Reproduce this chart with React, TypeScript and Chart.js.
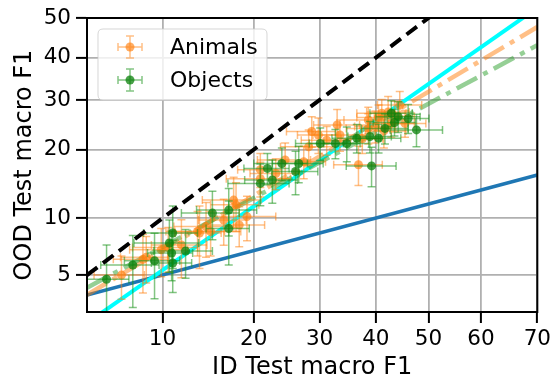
import React, { useEffect, useRef } from "react";
import { Chart, registerables } from "chart.js";

Chart.register(...registerables);

// ---------- data (percent values) ----------
const X_TICKS = [10, 20, 30, 40, 50, 60, 70];
const Y_TICKS = [5, 10, 20, 30, 40, 50];
const X_RANGE = [5, 70];
const Y_RANGE = [3, 50];

const ANIMALS_X = [6.96, 8.45, 8.7, 9.9, 10.5, 11.7, 13.3, 13.5, 14.2, 14.7, 16.2, 17.4, 17.7, 18.1, 19.1, 20.9, 20.9, 23.1, 24.5, 27.4, 28.2, 28.7, 29.8, 31.2, 33.0, 33.5, 36.8, 37.5, 38.6, 38.6, 39.9, 40.5, 41.1, 42.3, 42.9, 43.5, 44.5, 45.5, 41.5];
const ANIMALS_Y = [5.0, 6.13, 6.3, 6.9, 7.1, 7.33, 8.6, 8.45, 9.1, 8.6, 9.8, 12.2, 11.6, 9.27, 10.2, 15.2, 16.6, 16.0, 18.2, 17.9, 20.5, 23.4, 22.7, 21.7, 24.7, 22.7, 17.4, 22.0, 24.0, 25.7, 24.4, 26.2, 27.1, 27.4, 25.0, 26.5, 28.9, 25.0, 23.5];
const ANIMALS_XERR = [1.6, 2.0, 1.8, 2.4, 2.8, 2.6, 3.0, 2.4, 3.2, 3.6, 2.8, 3.6, 3.0, 3.4, 4.0, 4.4, 3.0, 3.6, 4.0, 3.6, 4.4, 4.0, 3.4, 4.2, 4.0, 4.6, 4.4, 3.8, 4.0, 4.4, 3.8, 4.0, 4.6, 4.0, 4.4, 3.8, 4.2, 4.0, 4.2];
const ANIMALS_YERR = [1.4, 2.2, 1.8, 2.0, 1.9, 2.5, 2.2, 3.0, 2.8, 2.2, 2.5, 3.2, 3.0, 2.1, 2.5, 2.6, 2.7, 2.4, 3.0, 2.7, 3.2, 3.0, 3.4, 2.7, 3.2, 3.0, 3.2, 2.7, 3.0, 2.7, 3.2, 2.7, 3.0, 3.4, 2.7, 3.2, 3.0, 2.7, 3.2];

const OBJECTS_X = [6.05, 7.72, 9.35, 10.9, 10.8, 10.9, 10.6, 12.1, 14.9, 16.8, 16.8, 20.9, 21.9, 22.6, 24.0, 26.1, 26.6, 30.1, 32.7, 34.7, 36.5, 39.2, 38.9, 40.5, 41.7, 42.9, 44.2, 46.1, 47.7, 43.5];
const OBJECTS_Y = [4.73, 5.7, 6.02, 8.45, 6.64, 5.85, 7.5, 6.8, 10.6, 10.96, 8.9, 14.5, 16.8, 15.0, 17.6, 16.3, 17.6, 21.1, 21.1, 21.1, 22.1, 17.2, 22.4, 22.1, 24.0, 27.1, 26.4, 26.0, 23.7, 25.2];
const OBJECTS_XERR = [1.4, 2.0, 2.2, 2.4, 2.0, 1.8, 2.8, 2.8, 3.2, 3.6, 2.6, 4.2, 3.2, 3.8, 4.0, 3.6, 4.0, 4.0, 4.4, 4.0, 4.4, 4.6, 4.0, 4.2, 4.4, 4.0, 4.2, 4.0, 5.0, 4.0];
const OBJECTS_YERR = [2.6, 2.5, 2.4, 3.0, 2.0, 1.9, 2.3, 2.0, 2.8, 2.8, 3.2, 3.0, 2.5, 3.2, 2.7, 3.4, 3.0, 3.0, 2.7, 3.2, 2.7, 3.2, 3.0, 2.7, 3.0, 2.7, 3.2, 3.0, 3.2, 2.7];

// reference / fit lines (end points, percent)
const DIAG_X = [5, 70];
const DIAG_Y = [5, 70];
const BLUE_X = [5, 70];
const BLUE_Y = [3.82, 15.76];
const CYAN_X = [5, 70];
const CYAN_Y = [2.55, 52.6];
const ANIMALS_FIT_X = [5, 70];
const ANIMALS_FIT_Y = [3.83, 47.7];
const OBJECTS_FIT_X = [5, 70];
const OBJECTS_FIT_Y = [4.22, 43.1];

// ---------- probit transform ----------
function probit(p: number): number {
  const a = [-3.969683028665376e1, 2.209460984245205e2, -2.759285104469687e2, 1.38357751867269e2, -3.066479806614716e1, 2.506628277459239];
  const b = [-5.447609879822406e1, 1.615858368580409e2, -1.556989798598866e2, 6.680131188771972e1, -1.328068155288572e1];
  const c = [-7.784894002430293e-3, -3.223964580411365e-1, -2.400758277161838, -2.549732539343734, 4.374664141464968, 2.938163982698783];
  const d = [7.784695709041462e-3, 3.224671290700398e-1, 2.445134137142996, 3.754408661907416];
  const pl = 0.02425;
  const ph = 1 - pl;
  let q: number, r: number;
  if (p < pl) {
    q = Math.sqrt(-2 * Math.log(p));
    return (((((c[0] * q + c[1]) * q + c[2]) * q + c[3]) * q + c[4]) * q + c[5]) / ((((d[0] * q + d[1]) * q + d[2]) * q + d[3]) * q + 1);
  }
  if (p <= ph) {
    q = p - 0.5;
    r = q * q;
    return ((((((a[0] * r + a[1]) * r + a[2]) * r + a[3]) * r + a[4]) * r + a[5]) * q) / (((((b[0] * r + b[1]) * r + b[2]) * r + b[3]) * r + b[4]) * r + 1);
  }
  q = Math.sqrt(-2 * Math.log(1 - p));
  return -(((((c[0] * q + c[1]) * q + c[2]) * q + c[3]) * q + c[4]) * q + c[5]) / ((((d[0] * q + d[1]) * q + d[2]) * q + d[3]) * q + 1);
}
const T = (v: number) => probit(v / 100);

const FONT = "'DejaVu Sans', 'Liberation Sans', sans-serif";
const ORANGE_PT = "rgba(255,127,14,0.65)";
const ORANGE_BAR = "rgba(255,127,14,0.5)";
const GREEN_PT = "rgba(10,128,10,0.75)";
const GREEN_BAR = "rgba(30,150,30,0.55)";

const pts = (xs: number[], ys: number[]) => xs.map((x, i) => ({ x: T(x), y: T(ys[i]) }));

const errorBarPlugin = {
  id: "errorBars",
  beforeDatasetDraw(chart: any, args: any) {
    const ds = chart.data.datasets[args.index];
    if (!ds.errSrc) return;
    const { xs, ys, xe, ye, color } = ds.errSrc;
    const sx = chart.scales.x;
    const sy = chart.scales.y;
    const ctx = chart.ctx;
    const area = chart.chartArea;
    ctx.save();
    ctx.beginPath();
    ctx.rect(area.left, area.top, area.right - area.left, area.bottom - area.top);
    ctx.clip();
    ctx.strokeStyle = color;
    ctx.lineWidth = 1.5;
    const cap = 4;
    xs.forEach((x: number, i: number) => {
      const y = ys[i];
      const px = sx.getPixelForValue(T(x));
      const py = sy.getPixelForValue(T(y));
      const x0 = sx.getPixelForValue(T(x - xe[i]));
      const x1 = sx.getPixelForValue(T(x + xe[i]));
      const y0 = sy.getPixelForValue(T(y - ye[i]));
      const y1 = sy.getPixelForValue(T(y + ye[i]));
      ctx.beginPath();
      ctx.moveTo(x0, py);
      ctx.lineTo(x1, py);
      ctx.stroke();
      ctx.beginPath();
      ctx.moveTo(px, y0);
      ctx.lineTo(px, y1);
      ctx.stroke();
      ctx.beginPath();
      ctx.moveTo(x0, py - cap);
      ctx.lineTo(x0, py + cap);
      ctx.moveTo(x1, py - cap);
      ctx.lineTo(x1, py + cap);
      ctx.moveTo(px - cap, y0);
      ctx.lineTo(px + cap, y0);
      ctx.moveTo(px - cap, y1);
      ctx.lineTo(px + cap, y1);
      ctx.stroke();
    });
    ctx.restore();
  },
};

const framePlugin = {
  id: "frame",
  afterDatasetsDraw(chart: any) {
    const { ctx, chartArea: a } = chart;
    ctx.save();
    ctx.strokeStyle = "#000";
    ctx.lineWidth = 2;
    ctx.strokeRect(a.left, a.top, a.right - a.left, a.bottom - a.top);
    ctx.restore();
  },
};

const LEGEND_ITEMS = [
  { label: "Animals", pt: ORANGE_PT, bar: ORANGE_BAR },
  { label: "Objects", pt: GREEN_PT, bar: GREEN_BAR },
];

const legendPlugin = {
  id: "customLegend",
  afterDraw(chart: any) {
    const { ctx, chartArea: a } = chart;
    const left = a.left + 11;
    const top = a.top + 11;
    const w = 169;
    const h = 71;
    const r = 5;
    ctx.save();
    ctx.beginPath();
    ctx.moveTo(left + r, top);
    ctx.lineTo(left + w - r, top);
    ctx.quadraticCurveTo(left + w, top, left + w, top + r);
    ctx.lineTo(left + w, top + h - r);
    ctx.quadraticCurveTo(left + w, top + h, left + w - r, top + h);
    ctx.lineTo(left + r, top + h);
    ctx.quadraticCurveTo(left, top + h, left, top + h - r);
    ctx.lineTo(left, top + r);
    ctx.quadraticCurveTo(left, top, left + r, top);
    ctx.closePath();
    ctx.fillStyle = "rgba(255,255,255,0.8)";
    ctx.fill();
    ctx.strokeStyle = "rgba(204,204,204,0.8)";
    ctx.lineWidth = 1;
    ctx.stroke();
    LEGEND_ITEMS.forEach((it, i) => {
      const cx = left + 32;
      const cy = top + 18 + i * 33;
      ctx.strokeStyle = it.bar;
      ctx.lineWidth = 1.5;
      ctx.beginPath();
      ctx.moveTo(cx - 12, cy);
      ctx.lineTo(cx + 12, cy);
      ctx.moveTo(cx, cy - 11);
      ctx.lineTo(cx, cy + 11);
      ctx.moveTo(cx - 12, cy - 4);
      ctx.lineTo(cx - 12, cy + 4);
      ctx.moveTo(cx + 12, cy - 4);
      ctx.lineTo(cx + 12, cy + 4);
      ctx.moveTo(cx - 4, cy - 11);
      ctx.lineTo(cx + 4, cy - 11);
      ctx.moveTo(cx - 4, cy + 11);
      ctx.lineTo(cx + 4, cy + 11);
      ctx.stroke();
      ctx.fillStyle = it.pt;
      ctx.beginPath();
      ctx.arc(cx, cy, 4.5, 0, Math.PI * 2);
      ctx.fill();
      ctx.fillStyle = "#000";
      ctx.font = `22px ${FONT}`;
      ctx.textBaseline = "middle";
      ctx.textAlign = "left";
      ctx.fillText(it.label, left + 72, cy + 1);
    });
    ctx.restore();
  },
};

export default function App() {
  const ref = useRef<HTMLCanvasElement>(null);
  useEffect(() => {
    const canvas = ref.current;
    if (!canvas) return;
    const lineDs = (xs: number[], ys: number[], color: string, width: number, dash: number[]) => ({
      type: "line" as const,
      data: pts(xs, ys),
      borderColor: color,
      backgroundColor: color,
      borderWidth: width,
      borderDash: dash,
      borderCapStyle: "butt" as const,
      pointRadius: 0,
      showLine: true,
      fill: false,
      tension: 0,
      clip: 0,
    });
    const chart = new Chart(canvas, {
      type: "scatter",
      data: {
        datasets: [
          lineDs(DIAG_X, DIAG_Y, "#000000", 4, [13, 7]),
          {
            label: "Objects",
            data: pts(OBJECTS_X, OBJECTS_Y),
            pointRadius: 4.5,
            pointBackgroundColor: GREEN_PT,
            pointBorderWidth: 0,
            borderColor: GREEN_PT,
            clip: 0,
            errSrc: { xs: OBJECTS_X, ys: OBJECTS_Y, xe: OBJECTS_XERR, ye: OBJECTS_YERR, color: GREEN_BAR },
          } as any,
          {
            label: "Animals",
            data: pts(ANIMALS_X, ANIMALS_Y),
            pointRadius: 4.5,
            pointBackgroundColor: ORANGE_PT,
            pointBorderWidth: 0,
            borderColor: ORANGE_PT,
            clip: 0,
            errSrc: { xs: ANIMALS_X, ys: ANIMALS_Y, xe: ANIMALS_XERR, ye: ANIMALS_YERR, color: ORANGE_BAR },
          } as any,
          lineDs(OBJECTS_FIT_X, OBJECTS_FIT_Y, "rgba(44,160,44,0.5)", 4.5, [23, 7, 5, 7]),
          lineDs(ANIMALS_FIT_X, ANIMALS_FIT_Y, "rgba(255,127,14,0.5)", 4.5, [23, 7, 5, 7]),
          lineDs(CYAN_X, CYAN_Y, "#00ffff", 4, []),
          lineDs(BLUE_X, BLUE_Y, "#1f77b4", 3.5, []),
        ] as any,
      },
      options: {
        animation: false,
        responsive: false,
        devicePixelRatio: 1,
        events: [],
        layout: { padding: { left: 0, right: 15, top: 18, bottom: 0 } },
        plugins: { legend: { display: false }, tooltip: { enabled: false } },
        scales: {
          x: {
            type: "linear",
            min: T(X_RANGE[0]),
            max: T(X_RANGE[1]),
            afterBuildTicks: (s: any) => {
              s.ticks = X_TICKS.map((v) => ({ value: T(v) }));
            },
            afterFit: (s: any) => {
              s.height = 65;
            },
            ticks: {
              callback: (_v: any, i: number) => String(X_TICKS[i]),
              font: { family: FONT, size: 21.5 },
              color: "#000",
              padding: 4,
              maxRotation: 0,
              autoSkip: false,
            },
            grid: { color: "#b0b0b0", lineWidth: 1.8, tickColor: "#000", tickLength: 11, tickWidth: 2 },
            border: { color: "#000", width: 2 },
            title: {
              display: true,
              text: "ID Test macro F1",
              font: { family: FONT, size: 24, lineHeight: 0.8 },
              color: "#000",
              padding: { top: 0, bottom: 0 },
            },
          },
          y: {
            type: "linear",
            min: T(Y_RANGE[0]),
            max: T(Y_RANGE[1]),
            afterBuildTicks: (s: any) => {
              s.ticks = Y_TICKS.map((v) => ({ value: T(v) }));
            },
            afterFit: (s: any) => {
              s.width = 87;
            },
            ticks: {
              callback: (_v: any, i: number) => String(Y_TICKS[i]),
              font: { family: FONT, size: 21.5 },
              color: "#000",
              padding: 5,
              autoSkip: false,
            },
            grid: { color: "#b0b0b0", lineWidth: 1.8, tickColor: "#000", tickLength: 11, tickWidth: 2 },
            border: { color: "#000", width: 2 },
            title: {
              display: true,
              text: "OOD Test macro F1",
              font: { family: FONT, size: 24, lineHeight: 0.8 },
              color: "#000",
              padding: { top: 15, bottom: 0 },
            },
          },
        },
      } as any,
      plugins: [errorBarPlugin, framePlugin, legendPlugin],
    });
    return () => chart.destroy();
  }, []);
  return (
    <div style={{ position: "fixed", left: 0, top: 0, width: 555, height: 377, background: "#fff" }}>
      <canvas ref={ref} width={555} height={377} style={{ display: "block", width: 555, height: 377 }} />
    </div>
  );
}
